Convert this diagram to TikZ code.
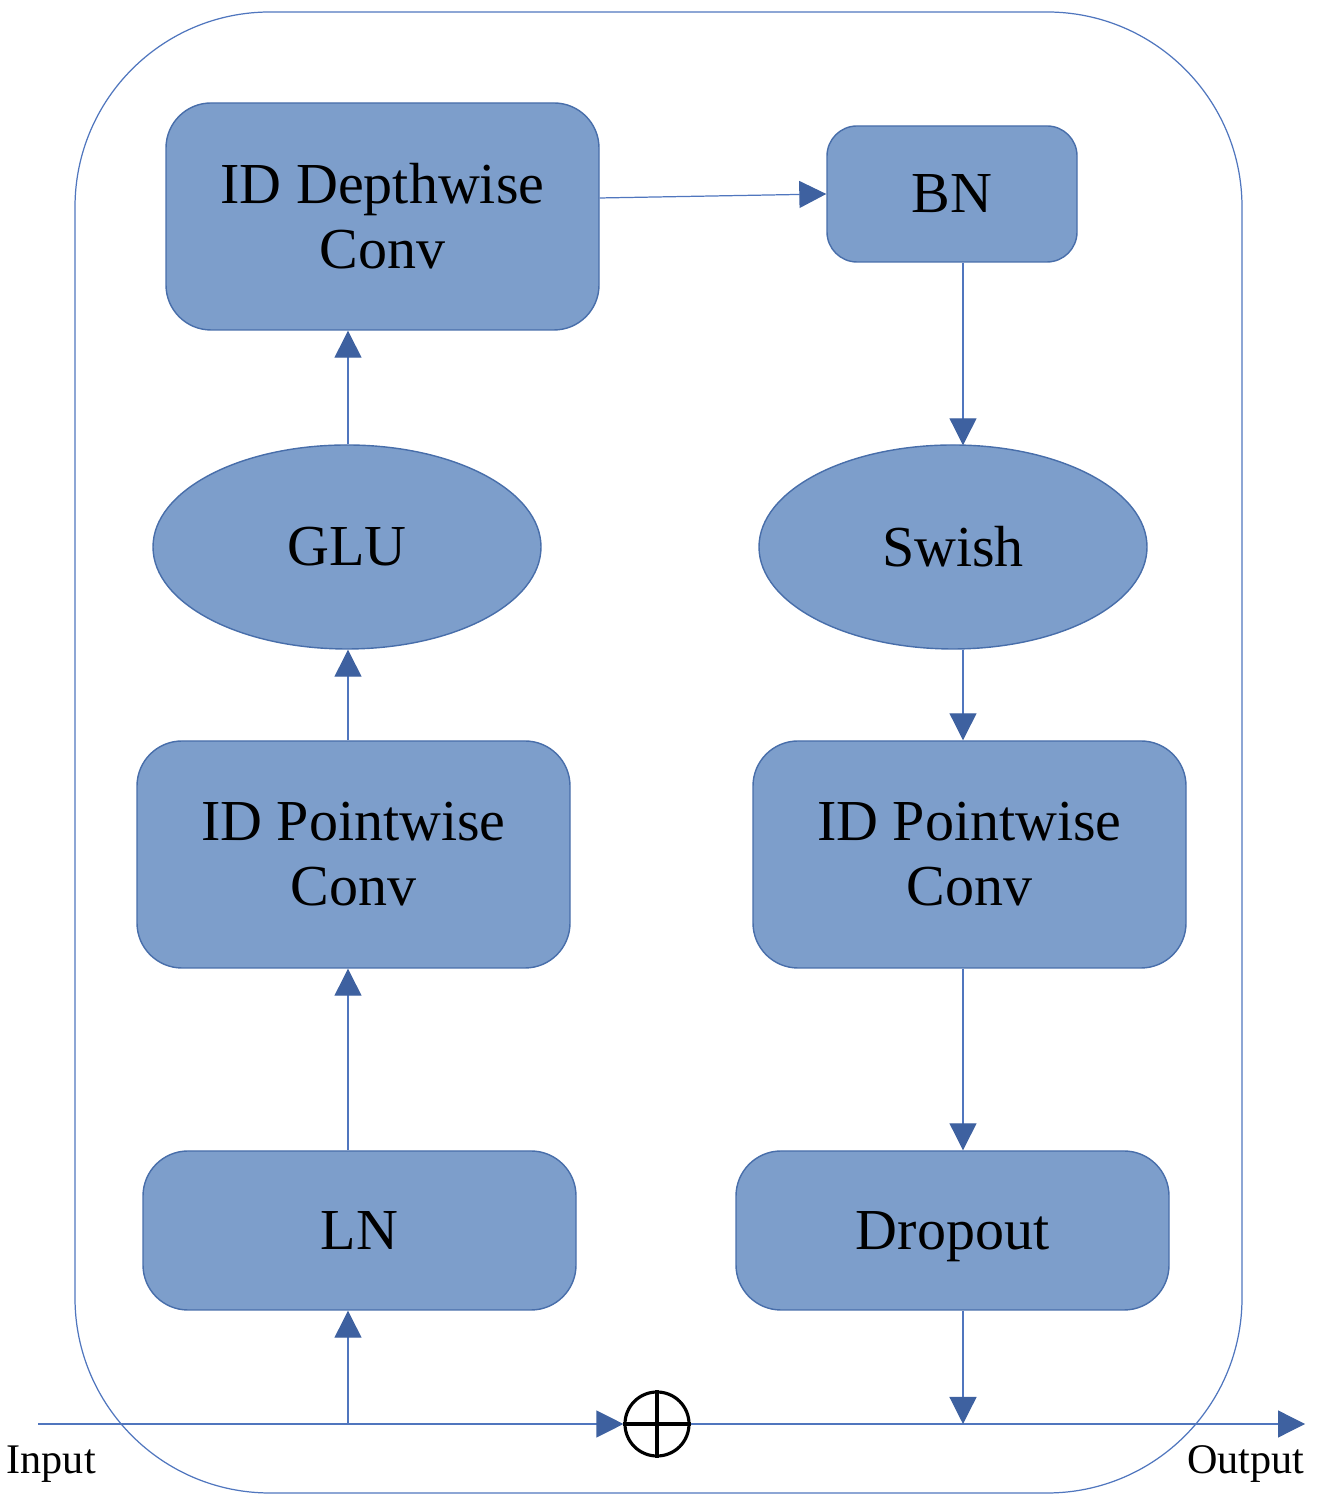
\documentclass[tikz,border=0pt]{standalone}
\usepackage{fontspec}
\setmainfont{Liberation Serif}
\usepackage{tikz}
\usetikzlibrary{arrows.meta,shapes.geometric}

\definecolor{blockfill}{RGB}{125,158,203}
\definecolor{blockline}{RGB}{72,110,170}
\definecolor{flowline}{RGB}{80,118,190}
\definecolor{tipblue}{RGB}{62,97,160}

\tikzset{
	block/.style={draw=blockline, fill=blockfill, rounded corners=0.45cm, minimum width=4.33cm, align=center, font=\fontsize{16.5}{18.5}\selectfont},
	oval/.style={draw=blockline, fill=blockfill, ellipse, minimum width=3.88cm, minimum height=2.04cm, inner sep=0pt, font=\fontsize{16.5}{18.5}\selectfont},
	flow/.style={draw=flowline, line width=0.35pt, -{Triangle[length=0.27cm, width=0.27cm, color=tipblue]}},
	small/.style={font=\fontsize{12}{14}\selectfont}
}

\begin{document}
\begin{tikzpicture}
			\useasboundingbox (0, 0) rectangle (13.18, 15.10);
			\draw[flowline, line width=0.35pt, rounded corners=1.95cm] (0.75, 0.17) rectangle (12.42, 14.98);

			\node[block, minimum height=2.27cm] (dw) at (3.825, 12.935) {ID Depthwise\\Conv};
			\node[block, minimum width=2.5cm, minimum height=1.36cm, rounded corners=0.3cm] (bn) at (9.52, 13.16) {BN};
			\node[oval] (glu) at (3.47, 9.63) {GLU};
			\node[oval] (swish) at (9.53, 9.63) {Swish};
			\node[block, minimum height=2.27cm] (pwl) at (3.535, 6.555) {ID Pointwise\\Conv};
			\node[block, minimum height=2.27cm] (pwr) at (9.695, 6.555) {ID Pointwise\\Conv};
			\node[block, minimum height=1.59cm] (ln) at (3.595, 2.795) {LN};
			\node[block, minimum height=1.59cm, text depth=0pt] (drop) at (9.525, 2.795) {Dropout};
			\node[circle, draw=black, line width=0.9pt, minimum size=0.64cm, inner sep=0pt] (plus) at (6.57, 0.86) {};
			\draw[black, line width=0.9pt] (plus.north) -- (plus.south) (plus.west) -- (plus.east);

			\coordinate (in) at (0.38, 0.86);
			\coordinate (out) at (13.05, 0.86);
			\coordinate (lcol) at (3.48, 0.86);
			\coordinate (rcol) at (9.63, 0.86);

			\draw[flow] (in) -- (plus.west);
			\draw[flow] (plus.east) -- (out);
			\draw[flow] (lcol) -- (ln.south -| lcol);
			\draw[flow] (ln.north -| lcol) -- (pwl.south -| lcol);
			\draw[flow] (pwl.north -| lcol) -- (glu.south -| lcol);
			\draw[flow] (glu.north -| lcol) -- (dw.south -| lcol);
			\draw[flow] (dw.east |- 0, 13.12) -- (bn.west);
			\draw[flow] (bn.south -| rcol) -- ([yshift=-0.01cm]swish.north -| rcol);
			\draw[flow] (swish.south -| rcol) -- (pwr.north -| rcol);
			\draw[flow] (pwr.south -| rcol) -- (drop.north -| rcol);
			\draw[flow] (drop.south -| rcol) -- (rcol);

			\node[small, anchor=base west, inner sep=0pt] (inlabel) at (0.06, 0.37) {Input};
			\node[small, anchor=base east, inner sep=0pt] (outlabel) at (13.05, 0.37) {Output};

		\end{tikzpicture}
\end{document}
